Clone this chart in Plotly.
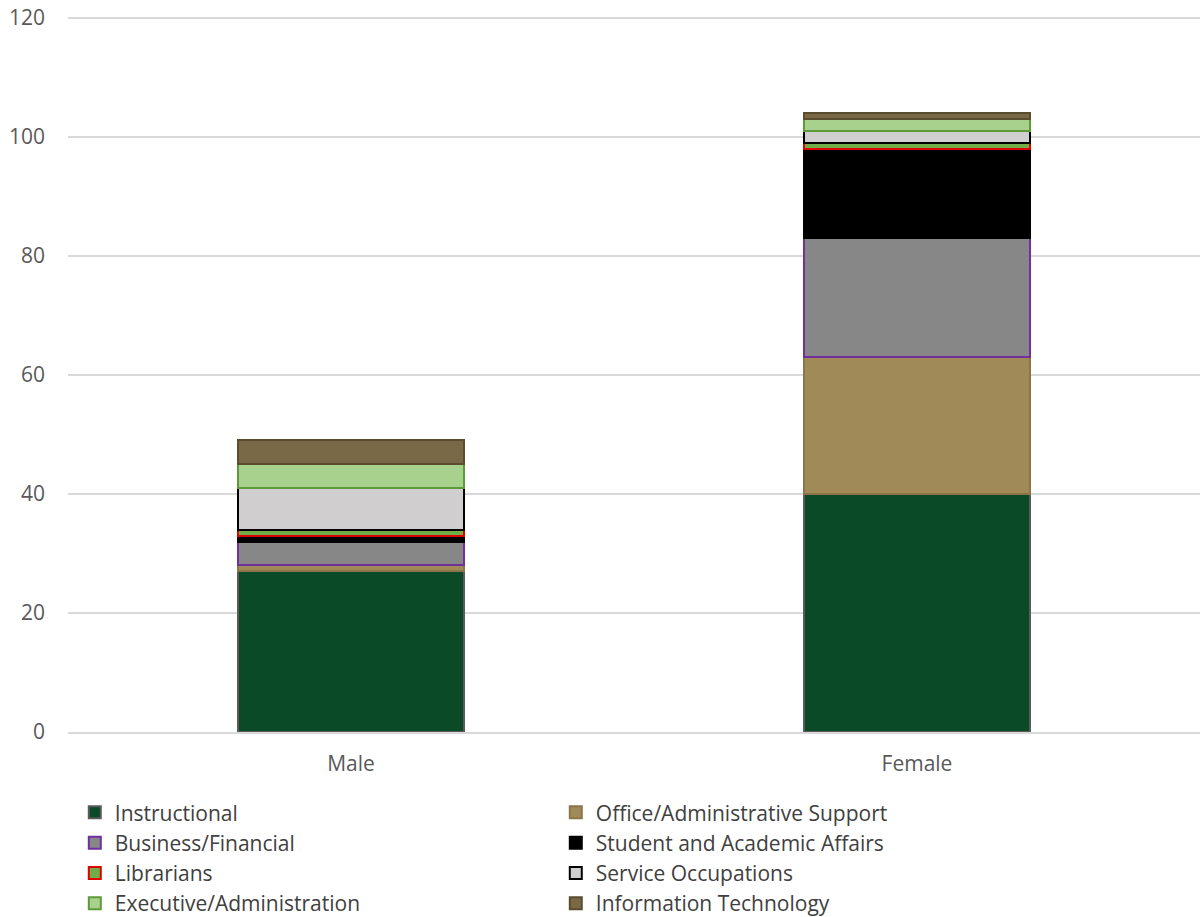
import plotly.graph_objects as go

categories = ["Male", "Female"]
series_names = ["Instructional", "Office/Administrative Support", "Business/Financial",
                "Student and Academic Affairs", "Librarians", "Service Occupations",
                "Executive/Administration", "Information Technology"]
instructional = [27, 40]
office_admin = [1, 23]
business_financial = [4, 20]
student_academic = [1, 15]
librarians = [1, 1]
service_occupations = [7, 2]
executive_admin = [4, 2]
information_tech = [4, 1]
tick_values = [0, 20, 40, 60, 80, 100, 120]

values = [instructional, office_admin, business_financial, student_academic,
          librarians, service_occupations, executive_admin, information_tech]
fills = ["#0A4A27", "#A08A58", "#878787", "#000000", "#70AD47", "#D0CECE", "#A9D18E", "#7A6946"]
borders = ["#5A5A5A", "#8C7548", "#7030A0", "#000000", "#E00000", "#000000", "#5E9A3A", "#5A4D30"]

fig = go.Figure()
for name, vals, fc, bc in zip(series_names, values, fills, borders):
    fig.add_trace(go.Bar(
        x=categories, y=vals, name=name,
        marker=dict(color=fc, line=dict(color=bc, width=2)),
    ))

fig.update_layout(
    barmode="stack",
    bargap=0.6,
    width=1200, height=917,
    margin=dict(l=68, r=0, t=12, b=185, autoexpand=False),
    plot_bgcolor="white", paper_bgcolor="white",
    font=dict(family="Open Sans, Liberation Sans, sans-serif", size=21, color="#595959"),
    yaxis=dict(range=[0, 121], tickvals=tick_values, showgrid=True, gridcolor="#D9D9D9",
               gridwidth=1.5, zeroline=False, ticks="", tickfont=dict(size=21, color="#595959"),
               ticklabelstandoff=22, automargin=False, ticklabeloverflow="allow"),
    xaxis=dict(showline=True, linecolor="#D9D9D9", linewidth=1.5, ticks="",
               tickfont=dict(size=21, color="#595959"), automargin=False,
               ticklabelstandoff=12),
    legend=dict(orientation="h", x=0.006, y=-0.0836, xanchor="left", yanchor="top",
                traceorder="normal", entrywidth=436, entrywidthmode="pixels",
                font=dict(size=21, color="#404040"), itemwidth=30, tracegroupgap=0),
)

fig.write_html("out.html", config={"displayModeBar": False},
               post_script="document.body.style.margin='0';")
